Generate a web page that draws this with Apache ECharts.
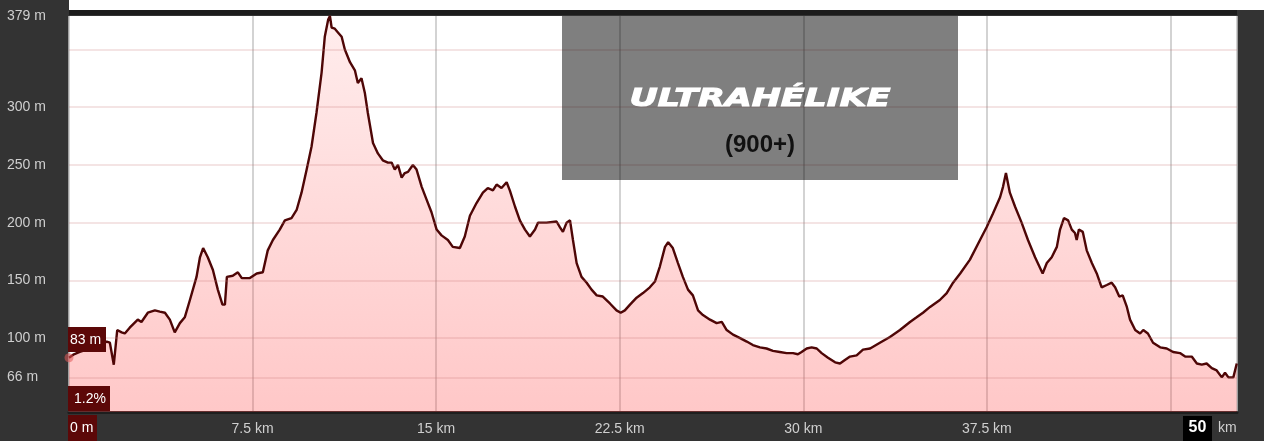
<!DOCTYPE html>
<html>
<head>
<meta charset="utf-8">
<script src="https://cdn.jsdelivr.net/npm/echarts@6/dist/echarts.min.js"></script>
<style>
html,body{margin:0;padding:0;background:#fff;}
#chart{width:1264px;height:441px;}
</style>
</head>
<body>
<div id="chart"></div>
<script>
// Distance along the route (km)
const distanceKm = [
  0, 0.20, 0.44, 0.85, 1.26, 1.54, 1.67, 1.83, 1.97, 2.15,
  2.28, 2.48, 2.81, 2.96, 3.22, 3.51, 3.71, 3.92, 4.12, 4.32,
  4.53, 4.73, 4.94, 5.21, 5.35, 5.48, 5.67, 5.88, 6.08, 6.27,
  6.37, 6.45, 6.69, 6.90, 7.06, 7.39, 7.67, 7.92, 8.12, 8.33,
  8.61, 8.82, 9.09, 9.30, 9.50, 9.71, 9.91, 10.11, 10.32, 10.45,
  10.59, 10.66, 10.73, 10.86, 10.98, 11.14, 11.27, 11.48, 11.68, 11.80,
  11.95, 12.09, 12.21, 12.42, 12.62, 12.82, 13.03, 13.18, 13.31, 13.44,
  13.59, 13.72, 13.85, 14.05, 14.20, 14.41, 14.61, 14.81, 15.02, 15.22,
  15.48, 15.68, 15.97, 16.17, 16.38, 16.65, 16.91, 17.11, 17.32, 17.47,
  17.67, 17.88, 18.01, 18.22, 18.42, 18.63, 18.83, 19.04, 19.16, 19.51,
  19.92, 20.06, 20.18, 20.33, 20.47, 20.59, 20.74, 20.94, 21.15, 21.35,
  21.56, 21.81, 22.10, 22.37, 22.54, 22.71, 22.92, 23.19, 23.45, 23.73,
  23.94, 24.14, 24.35, 24.48, 24.67, 24.88, 25.08, 25.29, 25.49, 25.70,
  25.90, 26.19, 26.46, 26.67, 26.87, 27.13, 27.42, 27.69, 27.94, 28.23,
  28.50, 28.76, 29.04, 29.32, 29.58, 29.78, 29.93, 30.14, 30.34, 30.55,
  30.75, 31.01, 31.30, 31.50, 31.70, 31.91, 32.18, 32.44, 32.73, 33.13,
  33.54, 33.95, 34.36, 34.63, 34.89, 35.18, 35.58, 35.86, 36.12, 36.41,
  36.81, 37.22, 37.49, 37.75, 38.04, 38.16, 38.28, 38.44, 38.65, 38.92,
  39.18, 39.47, 39.78, 39.95, 40.15, 40.36, 40.49, 40.65, 40.82, 40.97,
  41.10, 41.17, 41.26, 41.42, 41.58, 41.79, 41.99, 42.19, 42.40, 42.60,
  42.74, 42.91, 43.05, 43.22, 43.35, 43.56, 43.76, 43.89, 44.08, 44.29,
  44.58, 44.85, 45.11, 45.39, 45.60, 45.87, 46.08, 46.28, 46.48, 46.69,
  46.89, 47.10, 47.23, 47.37, 47.57, 47.64, 47.71
];
// Elevation (m)
const elevationM = [
  83, 86, 88, 91, 94, 97, 96, 77, 107, 105,
  104, 109, 116, 114, 122, 124, 123, 122, 116, 105,
  113, 118, 133, 153, 170, 178, 170, 159, 142, 129,
  129, 153, 154, 157, 152, 152, 156, 157, 176, 185,
  194, 202, 204, 211, 226, 246, 266, 295, 330, 361,
  376, 379, 369, 368, 365, 361, 350, 339, 332, 321,
  325, 312, 295, 269, 260, 254, 252, 252, 246, 250,
  239, 243, 244, 250, 246, 231, 220, 209, 194, 189,
  185, 179, 178, 188, 206, 217, 226, 230, 228, 233,
  230, 235, 228, 214, 202, 194, 188, 194, 200, 200,
  201, 196, 192, 200, 202, 185, 165, 153, 148, 142,
  137, 136, 130, 124, 122, 124, 129, 135, 139, 144,
  149, 162, 179, 183, 178, 165, 153, 142, 137, 124,
  120, 116, 113, 114, 107, 103, 100, 97, 94, 92,
  91, 89, 88, 87, 87, 86, 88, 91, 92, 91,
  87, 83, 79, 78, 81, 84, 85, 90, 91, 96,
  101, 107, 114, 118, 122, 127, 133, 139, 148, 156,
  168, 185, 196, 208, 222, 231, 243, 226, 214, 200,
  185, 170, 156, 165, 170, 179, 194, 204, 202, 194,
  191, 185, 194, 192, 176, 165, 156, 144, 146, 148,
  144, 136, 137, 127, 116, 107, 104, 107, 104, 96,
  92, 91, 88, 87, 84, 84, 78, 77, 78, 74,
  72, 66, 70, 66, 66, 72, 78
];
// Axis settings / tick labels
const yAxisMin = 36;
const yAxisMax = 379;
const yTickLabels = [379, 300, 250, 200, 150, 100, 66];
const yGridValues = [350, 300, 250, 200, 150, 100, 66];
const xAxisMax = 47.72;
const xTickStep = 7.5;
const xHiddenTicks = [0, 45];
// Annotation texts
const startElevText = '83 m';
const gradeText = '1.2%';
const startDistText = '0 m';
const totalDistText = '50';
const totalDistUnit = 'km';
const logoTitle = 'ULTRAHÉLIKE';
const logoSub = '(900+)';

const points = distanceKm.map((d, i) => [d, elevationM[i]]);
const FONT = 'Liberation Sans, Arial, sans-serif';

const chart = echarts.init(document.getElementById('chart'), null, {renderer: 'canvas'});
chart.setOption({
  backgroundColor: '#333333',
  animation: false,
  grid: {
    left: 69, right: 27, top: 16, bottom: 29,
    show: true, backgroundColor: '#ffffff', borderWidth: 0,
    containLabel: false, outerBoundsMode: 'none'
  },
  xAxis: {
    type: 'value', min: 0, max: xAxisMax, interval: xTickStep,
    axisLine: {show: true, onZero: false, lineStyle: {color: '#1e1e1e', width: 3}},
    axisTick: {show: false},
    splitLine: {show: true, lineStyle: {color: '#c4c4c4', width: 1.5}},
    axisLabel: {
      color: '#cfcfcf', fontSize: 14, fontFamily: FONT, margin: 10,
      showMaxLabel: false,
      formatter: function (v) {
        const k = v / xTickStep;
        if (Math.abs(k - Math.round(k)) > 0.001) return '';
        for (const h of xHiddenTicks) { if (Math.abs(v - h) < 0.001) return ''; }
        return v + ' km';
      }
    }
  },
  yAxis: {
    type: 'value', min: yAxisMin, max: yAxisMax,
    axisLine: {show: false},
    axisTick: {show: false, customValues: yTickLabels},
    splitLine: {show: false},
    axisLabel: {
      customValues: yTickLabels,
      align: 'left', margin: 62,
      color: '#cfcfcf', fontSize: 14, fontFamily: FONT,
      formatter: '{value} m'
    }
  },
  series: [{
    type: 'line',
    data: points,
    showSymbol: false,
    symbol: 'none',
    smooth: false,
    lineStyle: {color: '#4e0606', width: 2.4},
    areaStyle: {
      color: new echarts.graphic.LinearGradient(0, 0, 0, 1, [
        {offset: 0, color: 'rgba(255,80,80,0.15)'},
        {offset: 1, color: 'rgba(255,80,80,0.45)'}
      ])
    },
    markLine: {
      silent: true, symbol: ['none', 'none'],
      label: {show: false},
      lineStyle: {type: 'solid', color: 'rgba(200,120,120,0.2)', width: 2},
      data: yGridValues.map(v => ({yAxis: v}))
    },
    markPoint: {
      silent: true,
      symbol: 'circle', symbolSize: 9,
      itemStyle: {color: 'rgba(225,90,90,0.55)'},
      label: {show: false},
      data: [{coord: [distanceKm[0], elevationM[0]]}]
    }
  }],
  graphic: [
    {type: 'rect', z: -1, shape: {x: 69, y: 0, width: 1195, height: 10}, style: {fill: '#ffffff'}},
    {type: 'rect', z: 5, shape: {x: 69, y: 10, width: 1168, height: 5}, style: {fill: '#1c1c1c'}},
    {type: 'rect', z: 100, shape: {x: 562, y: 16, width: 396, height: 164}, style: {fill: 'rgba(0,0,0,0.5)'}},
    {type: 'text', z: 101, x: 760, y: 100, scaleX: 1.45,
      style: {text: logoTitle, fill: '#ffffff', stroke: '#ffffff', lineWidth: 1, font: 'italic bold 24px "DejaVu Sans", sans-serif', align: 'center', verticalAlign: 'middle'}},
    {type: 'text', z: 101, x: 760, y: 145,
      style: {text: logoSub, fill: '#111111', font: 'bold 24px "Liberation Sans", Arial, sans-serif', align: 'center', verticalAlign: 'middle'}},
    {type: 'rect', z: 100, shape: {x: 68, y: 327, width: 38, height: 25}, style: {fill: '#5c0808'}},
    {type: 'text', z: 101, x: 70, y: 340,
      style: {text: startElevText, fill: '#ffffff', font: '14px "Liberation Sans", Arial, sans-serif', align: 'left', verticalAlign: 'middle'}},
    {type: 'rect', z: 100, shape: {x: 68, y: 386, width: 42, height: 25}, style: {fill: '#5c0808'}},
    {type: 'text', z: 101, x: 74, y: 399,
      style: {text: gradeText, fill: '#ffffff', font: '14px "Liberation Sans", Arial, sans-serif', align: 'left', verticalAlign: 'middle'}},
    {type: 'rect', z: 100, shape: {x: 68, y: 415, width: 29, height: 26}, style: {fill: '#5c0808'}},
    {type: 'text', z: 101, x: 70, y: 428,
      style: {text: startDistText, fill: '#ffffff', font: '14px "Liberation Sans", Arial, sans-serif', align: 'left', verticalAlign: 'middle'}},
    {type: 'rect', z: 100, shape: {x: 1183, y: 416, width: 29, height: 25}, style: {fill: '#000000'}},
    {type: 'text', z: 101, x: 1197.5, y: 428,
      style: {text: totalDistText, fill: '#ffffff', font: 'bold 16px "Liberation Sans", Arial, sans-serif', align: 'center', verticalAlign: 'middle'}},
    {type: 'text', z: 101, x: 1218, y: 428,
      style: {text: totalDistUnit, fill: '#cfcfcf', font: '14px "Liberation Sans", Arial, sans-serif', align: 'left', verticalAlign: 'middle'}}
  ]
});
</script>
</body>
</html>
